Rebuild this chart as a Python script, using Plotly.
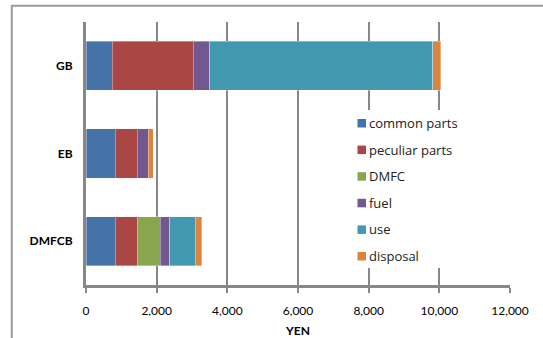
import plotly.graph_objects as go

# Cost breakdown per battery type (YEN)
categories = ["DMFCB", "EB", "GB"]
series_names = ["common parts", "peculiar parts", "DMFC", "fuel", "use", "disposal"]
common_parts = [825, 825, 745]
peculiar_parts = [625, 625, 2290]
dmfc = [655, 0, 0]
fuel = [265, 305, 470]
use = [720, 0, 6310]
disposal = [180, 150, 225]
x_ticks = [0, 2000, 4000, 6000, 8000, 10000, 12000]

values = [common_parts, peculiar_parts, dmfc, fuel, use, disposal]
colors = ["#4572A7", "#AA4643", "#89A54E", "#71588F", "#4198AF", "#DB843D"]

grid = "#878787"
font_family = "Lato, 'Open Sans', sans-serif"

W, H = 543, 338
ML, MR, MT, MB = 86, 33, 22, 53
PW, PH = W - ML - MR, H - MT - MB


def px_x(p):
    return (p - ML) / PW


def px_y(p):
    return (H - MB - p) / PH


fig = go.Figure()
for name, vals, col in zip(series_names, values, colors):
    fig.add_trace(go.Bar(
        y=categories, x=vals, name=name, orientation="h",
        marker=dict(color=col, line=dict(color="rgba(255,255,255,0.6)", width=0.6)),
        showlegend=False,
    ))

# Legend drawn as a white panel with swatches and labels
shapes = [
    dict(type="rect", xref="paper", yref="paper",
         x0=-0.175, x1=1.3, y0=-0.4, y1=1.062,
         line=dict(color="#9a9a9a", width=2), layer="below"),
    dict(type="rect", xref="paper", yref="paper",
         x0=px_x(350), x1=px_x(470), y0=px_y(268), y1=px_y(110),
         fillcolor="white", line=dict(width=0), layer="above"),
]
annotations = []
row_y0, row_step = 123, 26.6
for i, (name, col) in enumerate(zip(series_names, colors)):
    cy = row_y0 + i * row_step
    shapes.append(dict(type="rect", xref="paper", yref="paper",
                       x0=px_x(357.5), x1=px_x(366), y0=px_y(cy + 4.5), y1=px_y(cy - 4),
                       fillcolor=col, line=dict(width=0), layer="above"))
    annotations.append(dict(xref="paper", yref="paper", x=px_x(367), y=px_y(cy),
                            xanchor="left", yanchor="middle", showarrow=False,
                            text=name,
                            font=dict(family="'Open Sans', sans-serif", size=13, color="#222222")))

fig.update_layout(
    width=W, height=H,
    margin=dict(l=ML, r=MR, t=MT, b=MB),
    paper_bgcolor="white", plot_bgcolor="white",
    barmode="stack", bargap=0.44,
    font=dict(family=font_family, size=12, color="#000000"),
    showlegend=False,
    xaxis=dict(
        range=[0, 12000], tickvals=x_ticks, tickformat=",d",
        showgrid=True, gridcolor=grid, gridwidth=2,
        showline=True, linecolor=grid, linewidth=2.5,
        ticks="outside", ticklen=5, tickcolor=grid, tickwidth=2,
        ticklabelstandoff=8, zeroline=False, automargin=False,
        tickfont=dict(size=12),
        title=dict(text="<b>YEN</b>", font=dict(size=12), standoff=18),
    ),
    yaxis=dict(
        categoryorder="array", categoryarray=categories,
        showgrid=False, showline=True, linecolor=grid, linewidth=3,
        ticks="", ticklabelstandoff=8, automargin=False,
        tickfont=dict(size=12),
        tickvals=categories, ticktext=[f"<b>{c}</b>" for c in categories],
    ),
    shapes=shapes,
    annotations=annotations,
)

fig.write_html("out.html")
